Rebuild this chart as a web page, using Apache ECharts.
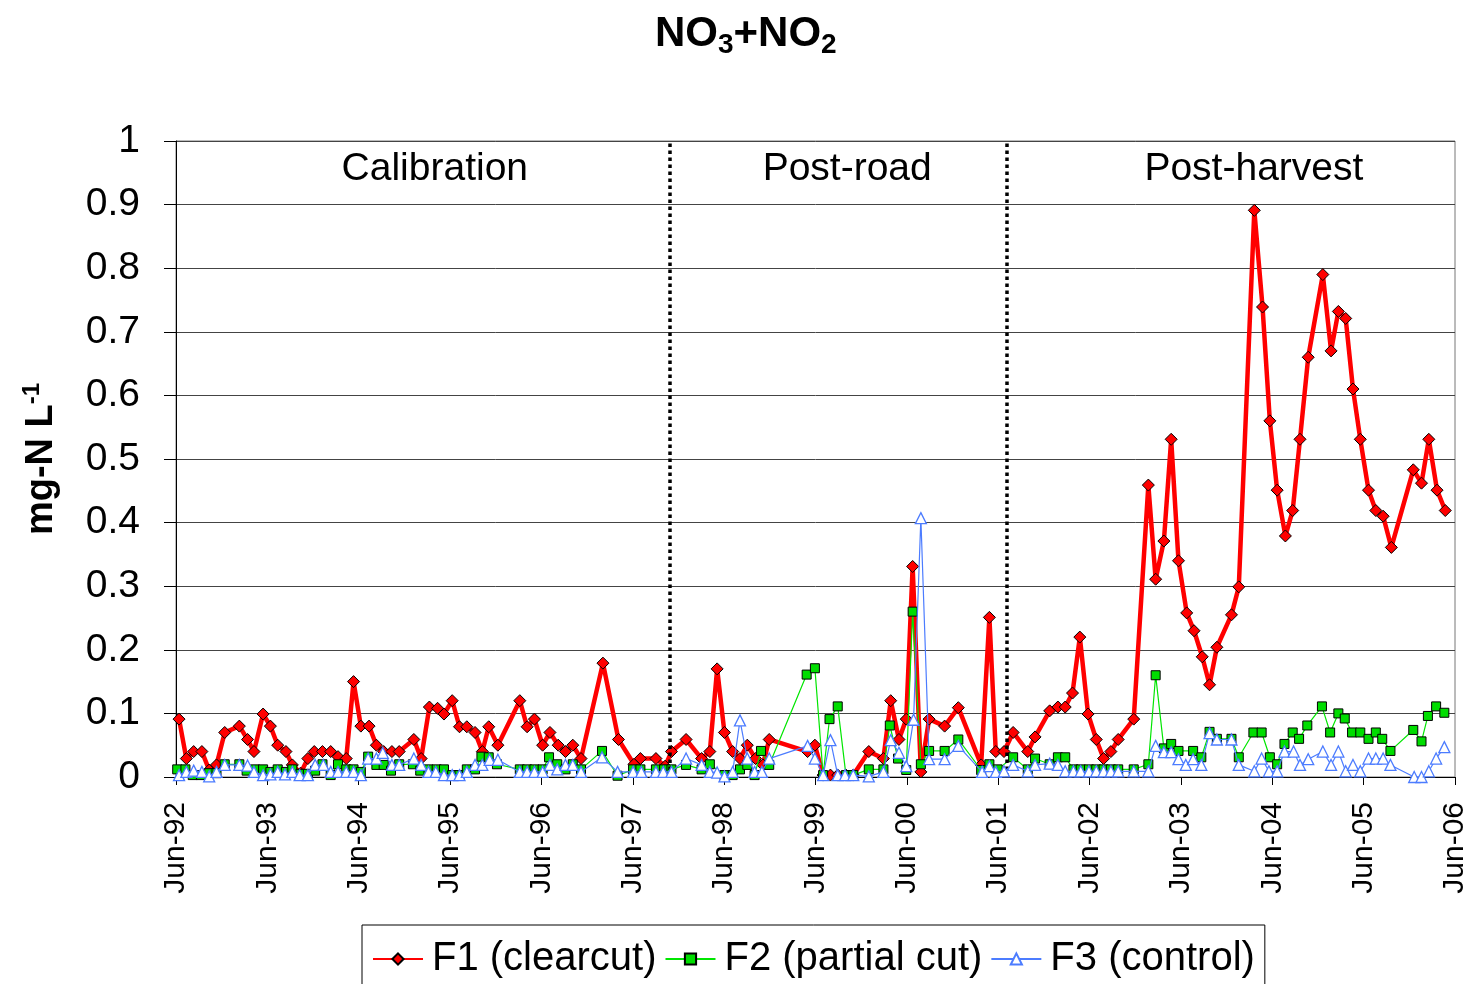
<!DOCTYPE html>
<html>
<head>
<meta charset="utf-8">
<style>
html,body{margin:0;padding:0;background:#fff;}
#chart{width:1470px;height:984px;}
</style>
<script src="https://cdn.jsdelivr.net/npm/echarts@6/dist/echarts.min.js"></script>
</head>
<body>
<div id="chart"></div>
<script>
// ---- data (decimal year, mg-N/L) ----
const f1 = [
[1992.45,0.091],[1992.53,0.029],[1992.61,0.040],[1992.70,0.040],[1992.78,0.011],[1992.86,0.019],[1992.95,0.070],
[1993.11,0.080],[1993.20,0.059],[1993.27,0.040],[1993.37,0.099],[1993.45,0.080],[1993.53,0.050],[1993.62,0.040],
[1993.69,0.019],[1993.78,0.006],[1993.86,0.029],[1993.93,0.040],[1994.02,0.040],[1994.11,0.040],[1994.19,0.032],
[1994.28,0.029],[1994.36,0.150],[1994.44,0.080],[1994.53,0.080],[1994.61,0.050],[1994.69,0.040],[1994.78,0.040],
[1994.86,0.040],[1995.02,0.059],[1995.10,0.029],[1995.19,0.110],[1995.28,0.108],[1995.35,0.099],[1995.44,0.120],
[1995.52,0.079],[1995.60,0.079],[1995.69,0.070],[1995.77,0.040],[1995.84,0.079],[1995.94,0.050],[1996.18,0.120],
[1996.26,0.079],[1996.34,0.091],[1996.43,0.050],[1996.51,0.070],[1996.60,0.050],[1996.68,0.040],[1996.76,0.050],
[1996.85,0.029],[1997.09,0.179],[1997.26,0.059],[1997.43,0.020],[1997.50,0.029],[1997.67,0.029],[1997.77,0.017],
[1997.84,0.040],[1998.00,0.059],[1998.17,0.029],[1998.26,0.040],[1998.34,0.170],[1998.42,0.070],[1998.51,0.040],
[1998.59,0.029],[1998.67,0.050],[1998.76,0.029],[1998.84,0.019],[1998.91,0.059],[1999.33,0.040],[1999.41,0.050],
[1999.50,0.003],[1999.58,0.003],[1999.66,0.003],[1999.75,0.003],[1999.83,0.003],[2000.00,0.040],[2000.16,0.029],
[2000.24,0.120],[2000.33,0.059],[2000.41,0.091],[2000.48,0.331],[2000.57,0.008],[2000.66,0.091],[2000.83,0.080],
[2000.98,0.109],[2001.23,0.019],[2001.32,0.251],[2001.39,0.040],[2001.48,0.040],[2001.58,0.070],[2001.74,0.040],
[2001.82,0.063],[2001.98,0.104],[2002.07,0.110],[2002.15,0.110],[2002.23,0.132],[2002.31,0.220],[2002.40,0.099],
[2002.49,0.059],[2002.57,0.029],[2002.65,0.040],[2002.73,0.059],[2002.90,0.091],[2003.06,0.459],[2003.14,0.311],
[2003.23,0.371],[2003.31,0.531],[2003.39,0.340],[2003.48,0.258],[2003.56,0.230],[2003.65,0.189],[2003.73,0.145],
[2003.81,0.204],[2003.97,0.255],[2004.05,0.299],[2004.22,0.891],[2004.31,0.739],[2004.39,0.560],[2004.47,0.451],
[2004.56,0.379],[2004.64,0.419],[2004.72,0.531],[2004.81,0.660],[2004.97,0.790],[2005.06,0.670],[2005.14,0.732],
[2005.22,0.721],[2005.30,0.610],[2005.38,0.531],[2005.47,0.451],[2005.55,0.419],[2005.63,0.410],[2005.72,0.361],
[2005.96,0.483],[2006.05,0.462],[2006.13,0.531],[2006.22,0.451],[2006.31,0.419]
];
const f2 = [
[1992.43,0.012],[1992.52,0.012],[1992.60,0.003],[1992.69,0.003],[1992.78,0.006],[1992.86,0.006],[1992.95,0.020],
[1993.11,0.020],[1993.19,0.010],[1993.28,0.012],[1993.37,0.012],[1993.45,0.008],[1993.53,0.012],[1993.62,0.008],
[1993.69,0.012],[1993.78,0.005],[1993.86,0.005],[1993.94,0.010],[1994.02,0.020],[1994.11,0.003],[1994.19,0.020],
[1994.28,0.012],[1994.36,0.012],[1994.44,0.008],[1994.52,0.032],[1994.61,0.019],[1994.69,0.019],[1994.77,0.010],
[1994.86,0.020],[1995.01,0.020],[1995.09,0.010],[1995.18,0.012],[1995.27,0.012],[1995.35,0.012],[1995.44,0.003],
[1995.52,0.003],[1995.60,0.012],[1995.69,0.012],[1995.76,0.032],[1995.84,0.031],[1995.93,0.020],[1996.18,0.012],
[1996.26,0.012],[1996.34,0.012],[1996.43,0.012],[1996.50,0.031],[1996.59,0.020],[1996.68,0.012],[1996.76,0.020],
[1996.85,0.012],[1997.08,0.041],[1997.25,0.002],[1997.42,0.012],[1997.50,0.012],[1997.67,0.012],[1997.76,0.012],
[1997.84,0.012],[1998.00,0.019],[1998.17,0.012],[1998.26,0.020],[1998.42,0.003],[1998.51,0.003],[1998.59,0.012],
[1998.67,0.019],[1998.75,0.003],[1998.82,0.041],[1998.91,0.019],[1999.32,0.161],[1999.41,0.171],[1999.50,0.003],
[1999.57,0.091],[1999.66,0.111],[1999.75,0.003],[1999.83,0.003],[2000.00,0.012],[2000.16,0.012],[2000.23,0.081],
[2000.32,0.029],[2000.41,0.011],[2000.48,0.260],[2000.57,0.020],[2000.66,0.041],[2000.83,0.041],[2000.98,0.059],
[2001.23,0.011],[2001.32,0.020],[2001.41,0.012],[2001.58,0.031],[2001.74,0.012],[2001.82,0.029],[2001.98,0.020],
[2002.07,0.031],[2002.15,0.031],[2002.24,0.012],[2002.32,0.012],[2002.41,0.012],[2002.49,0.012],[2002.57,0.012],
[2002.65,0.012],[2002.73,0.012],[2002.90,0.012],[2003.06,0.020],[2003.14,0.160],[2003.23,0.045],[2003.31,0.052],
[2003.39,0.041],[2003.55,0.041],[2003.64,0.031],[2003.73,0.071],[2003.81,0.060],[2003.97,0.060],[2004.05,0.031],
[2004.21,0.070],[2004.30,0.070],[2004.39,0.031],[2004.47,0.020],[2004.55,0.052],[2004.64,0.070],[2004.71,0.060],
[2004.80,0.081],[2004.96,0.111],[2005.05,0.070],[2005.14,0.100],[2005.21,0.092],[2005.29,0.070],[2005.38,0.070],
[2005.47,0.060],[2005.55,0.070],[2005.62,0.060],[2005.71,0.041],[2005.96,0.074],[2006.05,0.056],[2006.12,0.096],
[2006.21,0.111],[2006.30,0.101]
];
const f3 = [
[1992.45,0.003],[1992.53,0.008],[1992.61,0.010],[1992.70,0.008],[1992.78,0.001],[1992.86,0.008],[1992.95,0.019],
[1993.11,0.019],[1993.20,0.018],[1993.27,0.008],[1993.37,0.003],[1993.45,0.004],[1993.53,0.008],[1993.61,0.004],
[1993.69,0.008],[1993.77,0.003],[1993.86,0.003],[1993.94,0.019],[1994.03,0.019],[1994.11,0.008],[1994.19,0.008],
[1994.28,0.008],[1994.36,0.008],[1994.44,0.003],[1994.52,0.029],[1994.61,0.029],[1994.68,0.038],[1994.78,0.019],
[1994.86,0.019],[1995.02,0.029],[1995.10,0.019],[1995.18,0.008],[1995.26,0.008],[1995.35,0.003],[1995.44,0.003],
[1995.52,0.003],[1995.60,0.008],[1995.69,0.019],[1995.77,0.019],[1995.85,0.027],[1995.94,0.027],[1996.18,0.008],
[1996.26,0.008],[1996.34,0.008],[1996.43,0.008],[1996.51,0.019],[1996.59,0.012],[1996.68,0.019],[1996.76,0.019],
[1996.85,0.008],[1997.08,0.031],[1997.25,0.008],[1997.42,0.008],[1997.51,0.008],[1997.67,0.008],[1997.75,0.008],
[1997.84,0.008],[1998.00,0.029],[1998.17,0.019],[1998.26,0.008],[1998.34,0.007],[1998.42,0.001],[1998.51,0.008],
[1998.59,0.089],[1998.67,0.029],[1998.75,0.008],[1998.83,0.008],[1998.91,0.029],[1999.33,0.049],[1999.41,0.029],
[1999.50,0.003],[1999.58,0.058],[1999.66,0.003],[1999.74,0.003],[1999.83,0.003],[2000.00,0.001],[2000.16,0.008],
[2000.24,0.058],[2000.33,0.038],[2000.41,0.017],[2000.49,0.090],[2000.57,0.407],[2000.66,0.028],[2000.83,0.028],
[2000.98,0.049],[2001.24,0.008],[2001.32,0.017],[2001.39,0.008],[2001.48,0.009],[2001.58,0.019],[2001.74,0.009],
[2001.82,0.019],[2001.98,0.021],[2002.07,0.019],[2002.15,0.009],[2002.24,0.009],[2002.32,0.009],[2002.41,0.009],
[2002.49,0.009],[2002.57,0.009],[2002.65,0.009],[2002.73,0.009],[2002.90,0.009],[2003.06,0.009],[2003.14,0.049],
[2003.23,0.039],[2003.31,0.039],[2003.39,0.028],[2003.47,0.019],[2003.55,0.028],[2003.64,0.019],[2003.73,0.069],
[2003.81,0.059],[2003.97,0.059],[2004.05,0.019],[2004.22,0.009],[2004.30,0.029],[2004.38,0.009],[2004.47,0.009],
[2004.55,0.040],[2004.65,0.040],[2004.72,0.019],[2004.81,0.028],[2004.97,0.040],[2005.06,0.019],[2005.14,0.040],
[2005.22,0.009],[2005.30,0.019],[2005.38,0.009],[2005.47,0.029],[2005.55,0.029],[2005.63,0.029],[2005.71,0.019],
[2005.97,0.000],[2006.05,0.000],[2006.13,0.009],[2006.21,0.029],[2006.30,0.047]
];
const seriesNames = ['F1 (clearcut)', 'F2 (partial cut)', 'F3 (control)'];
const periodNames = ['Calibration', 'Post-road', 'Post-harvest'];
const periodBreaks = [1997.82, 2001.51];
const axisStartYear = 1992 + 5/12;   // Jun-92
const axisYears = 14;                // Jun-92 .. Jun-06
const yTicks = [0, 0.1, 0.2, 0.3, 0.4, 0.5, 0.6, 0.7, 0.8, 0.9, 1];

// ---- build ----
const toX = t => t - axisStartYear;
const conv = arr => arr.map(p => [toX(p[0]), p[1]]);
const FONT = 'Liberation Sans, Arial, sans-serif';
const chart = echarts.init(document.getElementById('chart'), null, {renderer: 'canvas'});

const bounds = [0, toX(periodBreaks[0]), toX(periodBreaks[1]), axisYears];
const labelOffsets = [[12, 0], [9, 0], [23, 0]];
const areas = periodNames.map((n, i) => [
  {xAxis: bounds[i], name: n, label: {offset: labelOffsets[i]}},
  {xAxis: bounds[i + 1]}
]);

chart.setOption({
  animation: false,
  backgroundColor: '#fff',
  title: {
    text: '{b|NO}{s|3}{b|+NO}{s|2}',
    left: 650, top: 4,
    textStyle: {
      rich: {
        b: {fontSize: 42, fontWeight: 'bold', fontFamily: FONT, color: '#000', lineHeight: 50, verticalAlign: 'middle'},
        s: {fontSize: 28, fontWeight: 'bold', fontFamily: FONT, color: '#000', lineHeight: 22, verticalAlign: 'bottom'}
      }
    }
  },
  legend: {
    data: seriesNames,
    top: 925, left: 362,
    borderColor: '#000', borderWidth: 1,
    padding: [14, 10, 30, 10],
    itemGap: 8, itemWidth: 50, itemHeight: 14,
    textStyle: {fontSize: 40, fontFamily: FONT, color: '#000', padding: [0, 0, 0, 4]}
  },
  grid: {left: 176, right: 14, top: 141, bottom: 207, show: true, borderColor: '#777', borderWidth: 1, containLabel: false},
  xAxis: {
    type: 'value', min: 0, max: axisYears, interval: 1,
    axisLine: {show: true, onZero: false, lineStyle: {color: '#000', width: 1}},
    axisTick: {show: true, inside: false, length: 8, lineStyle: {color: '#000'}},
    splitLine: {show: false},
    axisLabel: {
      rotate: 90, margin: 25, fontSize: 30, fontFamily: FONT, color: '#000',
      formatter: v => 'Jun-' + String((92 + Math.round(v)) % 100).padStart(2, '0')
    }
  },
  yAxis: {
    type: 'value', min: 0, max: 1, interval: 0.1,
    name: '{b|mg-N L}{sup|-1}',
    nameLocation: 'middle', nameRotate: 90, nameGap: 112,
    nameTextStyle: {
      rich: {
        b: {fontSize: 38, fontWeight: 'bold', fontFamily: FONT, color: '#000', lineHeight: 44, verticalAlign: 'middle'},
        sup: {fontSize: 24, fontWeight: 'bold', fontFamily: FONT, color: '#000', lineHeight: 20, verticalAlign: 'top'}
      }
    },
    axisLine: {show: true, lineStyle: {color: '#000', width: 1}},
    axisTick: {show: true, inside: false, length: 12, lineStyle: {color: '#000'}},
    splitLine: {show: true, lineStyle: {color: '#444', width: 1}},
    axisLabel: {
      margin: 36, fontSize: 39, fontFamily: FONT, color: '#000',
      formatter: v => {
        const t = yTicks.find(y => Math.abs(y - v) < 1e-6);
        return String(t === undefined ? v : t);
      }
    }
  },
  series: [
    {
      name: seriesNames[0], type: 'line', data: conv(f1), z: 3,
      symbol: 'diamond', symbolSize: 12,
      lineStyle: {color: '#ff0000', width: 4.5},
      itemStyle: {color: '#ff0000', borderColor: '#000', borderWidth: 1},
      markLine: {
        silent: true, symbol: 'none', label: {show: false},
        lineStyle: {color: '#000', width: 3.5, type: [3.5, 3.5]},
        data: periodBreaks.map(b => ({xAxis: toX(b)}))
      },
      markArea: {
        silent: true,
        itemStyle: {color: 'rgba(0,0,0,0)'},
        label: {show: true, position: 'insideTop', distance: 9, fontSize: 39, fontFamily: FONT, color: '#000'},
        data: areas
      }
    },
    {
      name: seriesNames[1], type: 'line', data: conv(f2), z: 4,
      symbol: 'rect', symbolSize: 9,
      lineStyle: {color: '#00e600', width: 1.2},
      itemStyle: {color: '#00dd00', borderColor: '#000', borderWidth: 1}
    },
    {
      name: seriesNames[2], type: 'line', data: conv(f3), z: 5,
      symbol: 'triangle', symbolSize: 11,
      lineStyle: {color: '#4c7cff', width: 1.2},
      itemStyle: {color: '#ffffff', borderColor: '#4c7cff', borderWidth: 1.3}
    }
  ]
});
</script>
</body>
</html>
